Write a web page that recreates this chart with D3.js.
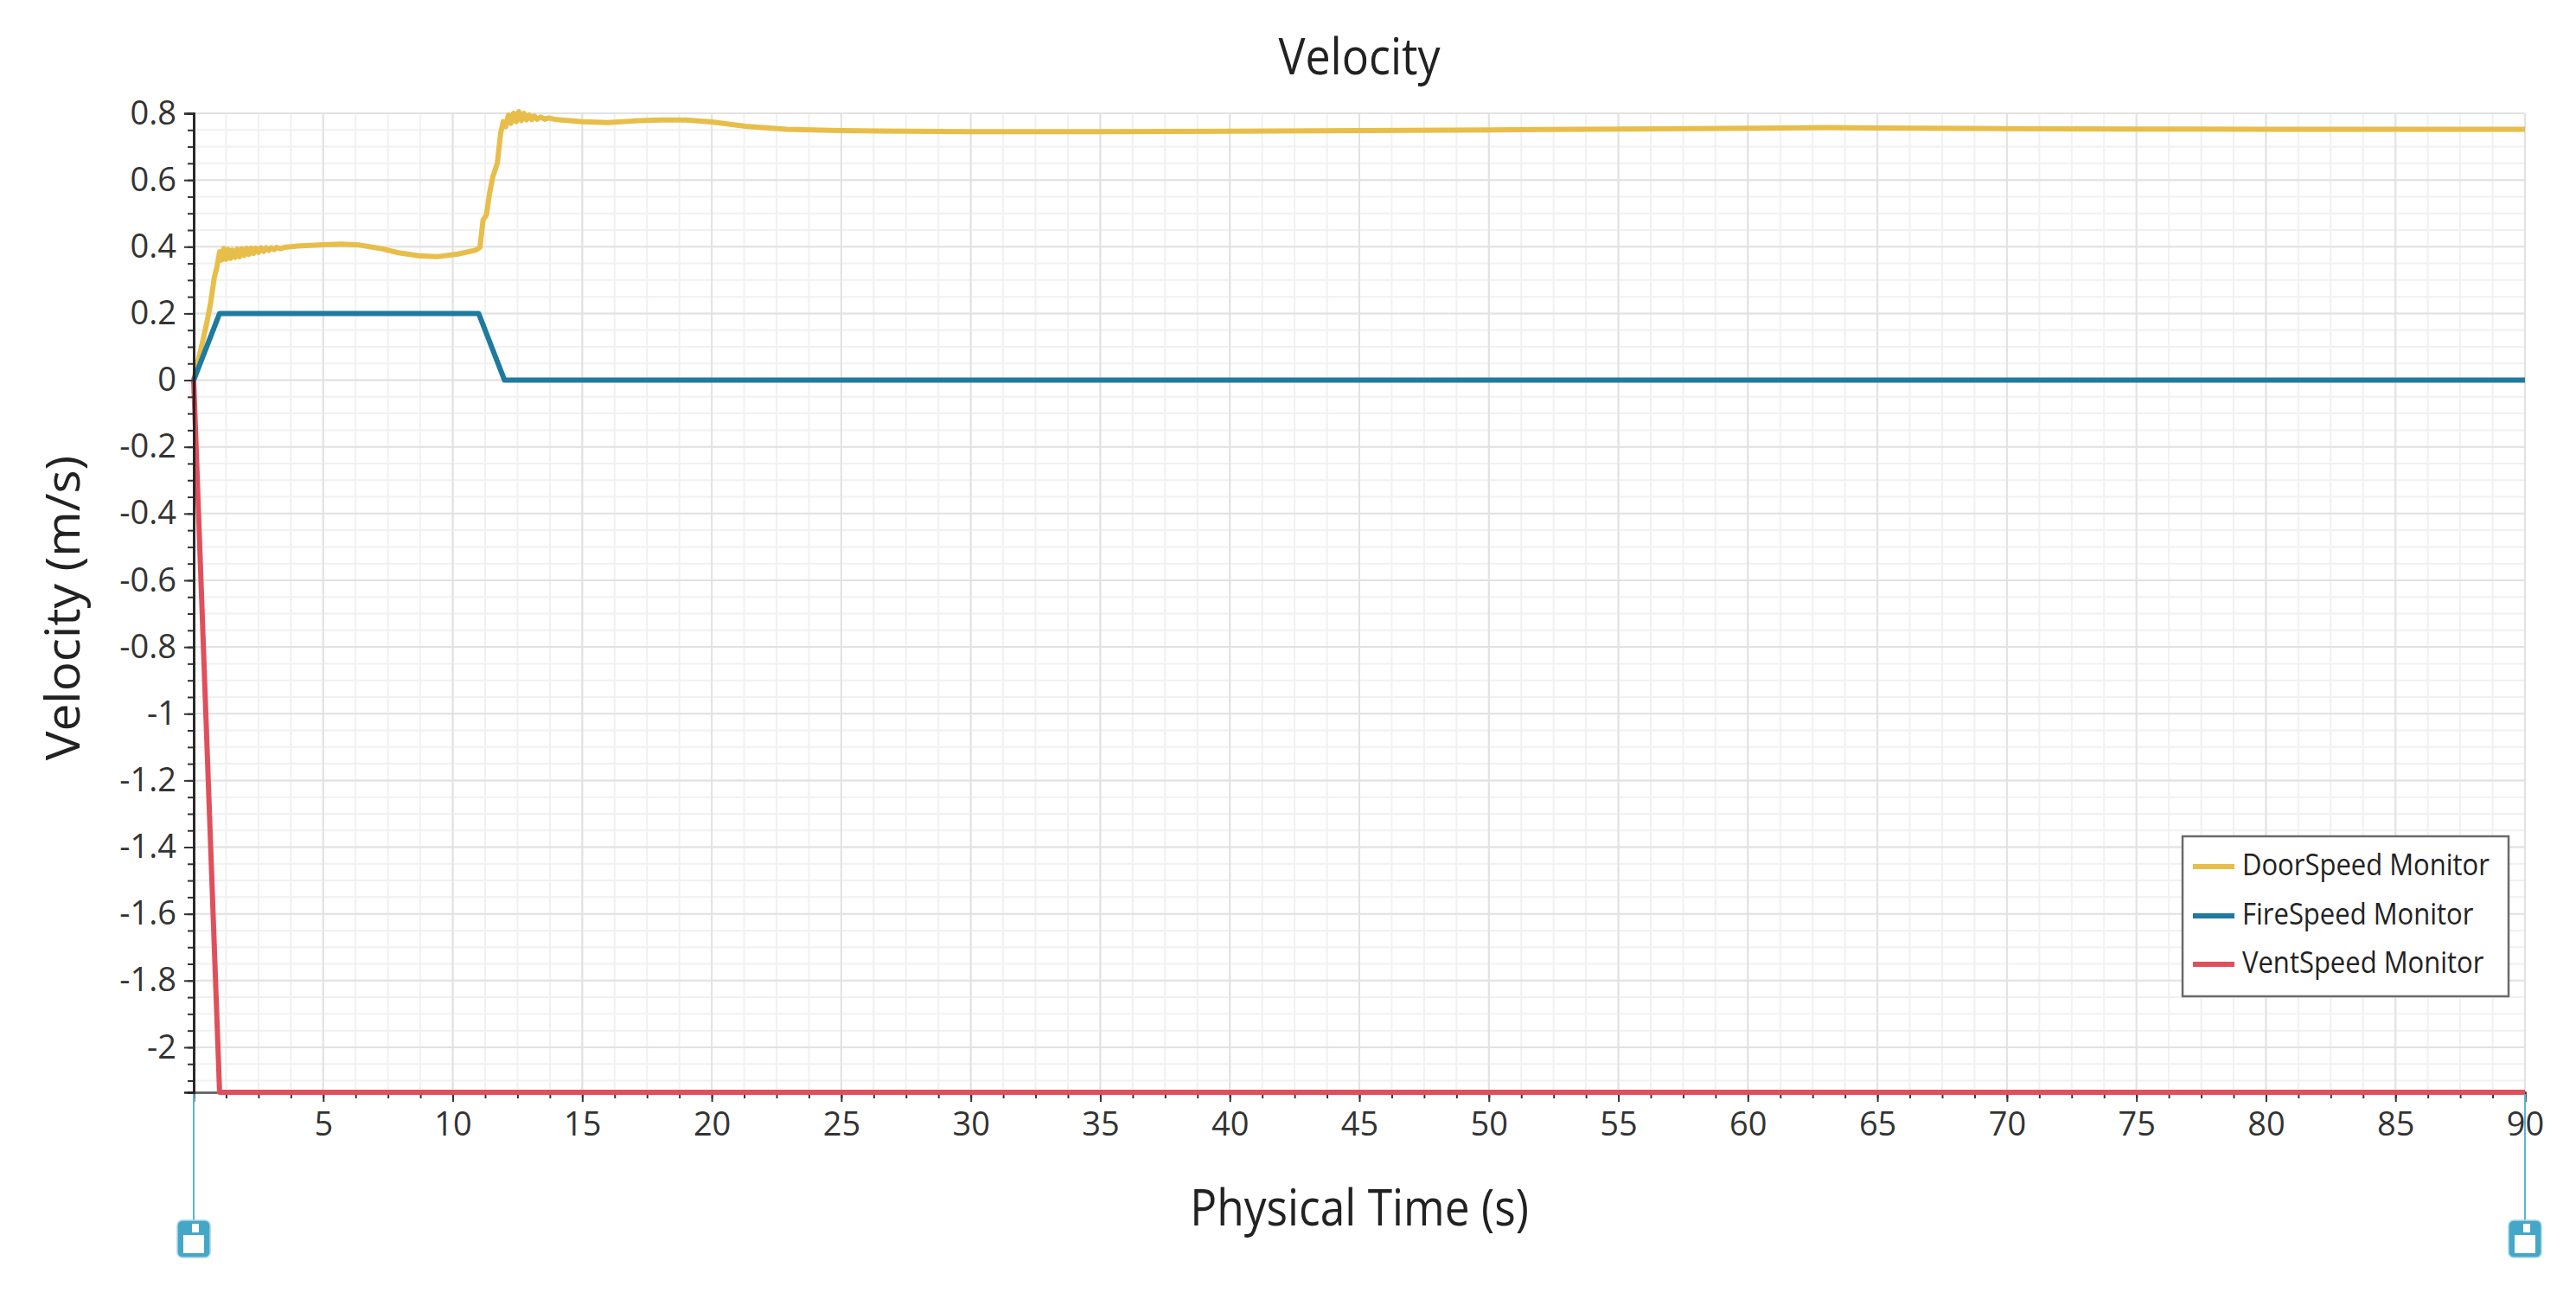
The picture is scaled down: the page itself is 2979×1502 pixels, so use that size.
<!DOCTYPE html>
<html>
<head>
<meta charset="utf-8">
<script src="https://cdn.jsdelivr.net/npm/d3@7"></script>
<style>
  html, body { margin: 0; padding: 0; background: #ffffff; }
  svg { display: block; }
  text { font-family: "Open Sans", "Noto Sans", sans-serif; }
</style>
</head>
<body>
<svg id="chart" width="2979" height="1502"></svg>
<script>
// ---------------- data ----------------
const chartTitle = "Velocity";
const xTitle = "Physical Time (s)";
const yTitle = "Velocity (m/s)";
const seriesNames = ["DoorSpeed Monitor", "FireSpeed Monitor", "VentSpeed Monitor"];
const seriesColors = ["#E8BE4A", "#1E7A9E", "#E0505C"];

const doorT = [0, 0.15, 0.3, 0.5, 0.65, 0.8, 0.9, 1.0, 1.08, 1.16, 1.25, 1.33, 1.42, 1.5, 1.6, 1.68, 1.77, 1.86, 1.95, 2.04, 2.13, 2.22, 2.31, 2.4, 2.5, 2.6, 2.7, 2.8, 2.9, 3.0, 3.1, 3.2, 3.35, 3.5, 4.0, 5.0, 5.7, 6.4, 7.2, 7.9, 8.7, 9.4, 10.2, 10.9, 11.05, 11.17, 11.3, 11.42, 11.55, 11.72, 11.85, 11.95, 12.05, 12.15, 12.25, 12.35, 12.45, 12.55, 12.65, 12.75, 12.85, 12.95, 13.05, 13.15, 13.25, 13.4, 13.55, 13.7, 14.0, 15.0, 16.0, 17.0, 18.0, 19.0, 20.0, 21.3, 22.9, 25, 30, 35, 40, 45, 50, 55, 60, 63, 65, 70, 75, 80, 85, 90];
const doorV = [0, 0.05, 0.10, 0.17, 0.23, 0.31, 0.34, 0.385, 0.36, 0.395, 0.362, 0.392, 0.365, 0.39, 0.368, 0.393, 0.37, 0.394, 0.374, 0.395, 0.377, 0.396, 0.38, 0.396, 0.383, 0.397, 0.386, 0.397, 0.389, 0.397, 0.391, 0.398, 0.394, 0.398, 0.402, 0.406, 0.408, 0.405, 0.395, 0.382, 0.373, 0.370, 0.378, 0.390, 0.398, 0.48, 0.495, 0.56, 0.61, 0.65, 0.74, 0.775, 0.76, 0.795, 0.77, 0.80, 0.775, 0.805, 0.778, 0.80, 0.78, 0.795, 0.781, 0.792, 0.782, 0.789, 0.782, 0.786, 0.781, 0.775, 0.772, 0.777, 0.780, 0.780, 0.774, 0.761, 0.752, 0.748, 0.745, 0.745, 0.746, 0.748, 0.750, 0.753, 0.755, 0.757, 0.756, 0.754, 0.753, 0.752, 0.752, 0.752];

const fireT = [0, 1, 11, 12, 90];
const fireV = [0, 0.2, 0.2, 0, 0];

const ventT = [0, 1, 90];
const ventV = [0, -2.135, -2.135];

const xMajorTicks = [5, 10, 15, 20, 25, 30, 35, 40, 45, 50, 55, 60, 65, 70, 75, 80, 85, 90];
const yMajorTicks = [0.8, 0.6, 0.4, 0.2, 0, -0.2, -0.4, -0.6, -0.8, -1, -1.2, -1.4, -1.6, -1.8, -2];
const xMinorStep = 1.25;
const yMinorStep = 0.05;
const xDomain = [0, 90];
const yDomain = [-2.135, 0.8];

// ---------------- layout ----------------
const svg = d3.select("#chart");
const L = 224, R = 2920, T = 131, B = 1263;

const x = d3.scaleLinear().domain(xDomain).range([L, R]);
const y = d3.scaleLinear().domain(yDomain).range([B, T]);

const xMinor = d3.range(0, 90 + 1e-9, xMinorStep);
const yMinor = d3.range(0.8, -2.135 - 1e-9, -yMinorStep).map(v => +v.toFixed(3));
const yMajorGrid = yMajorTicks;
const xMajorGrid = [0].concat(xMajorTicks);

// grid
const grid = svg.append("g");
grid.selectAll(".vminor").data(xMinor).join("line")
  .attr("x1", d => x(d)).attr("x2", d => x(d)).attr("y1", T).attr("y2", B)
  .attr("stroke", "#f1f1f1").attr("stroke-width", 2);
grid.selectAll(".hminor").data(yMinor).join("line")
  .attr("x1", L).attr("x2", R).attr("y1", d => y(d)).attr("y2", d => y(d))
  .attr("stroke", "#f1f1f1").attr("stroke-width", 2);
grid.selectAll(".vmajor").data(xMajorGrid).join("line")
  .attr("x1", d => x(d)).attr("x2", d => x(d)).attr("y1", T).attr("y2", B)
  .attr("stroke", "#e2e2e2").attr("stroke-width", 2);
grid.selectAll(".hmajor").data(yMajorGrid).join("line")
  .attr("x1", L).attr("x2", R).attr("y1", d => y(d)).attr("y2", d => y(d))
  .attr("stroke", "#e2e2e2").attr("stroke-width", 2);

// axes
const fmt = d => String(+(+d).toFixed(2));
const yAxisMinor = d3.axisLeft(y).tickValues(yMinor).tickSize(7).tickFormat("");
const yAxisMajor = d3.axisLeft(y).tickValues(yMajorTicks).tickSize(11).tickPadding(9).tickFormat(fmt);
const xAxisMinor = d3.axisBottom(x).tickValues(xMinor).tickSize(7).tickFormat("");
const xAxisMajor = d3.axisBottom(x).tickValues(xMajorTicks).tickSize(11).tickPadding(12).tickFormat(fmt);

function styleAxis(g, color) {
  g.select(".domain").attr("stroke", color).attr("stroke-width", 2.5);
  g.selectAll(".tick line").attr("stroke", "#333").attr("stroke-width", 2);
  g.selectAll(".tick text").attr("fill", "#333").attr("font-size", 38)
    .attr("font-family", '"Open Sans", sans-serif');
}

// series lines
const line = d3.line().x(d => x(d[0])).y(d => y(d[1]));
const series = [
  d3.zip(doorT, doorV),
  d3.zip(fireT, fireV),
  d3.zip(ventT, ventV)
];

const xgMin = svg.append("g").attr("transform", `translate(0,${B})`).call(xAxisMinor);
const xgMaj = svg.append("g").attr("transform", `translate(0,${B})`).call(xAxisMajor);
styleAxis(xgMin, "#666"); styleAxis(xgMaj, "#666");
xgMaj.selectAll(".tick text").attr("dy", "0.71em");

svg.append("g").selectAll("path").data(series).join("path")
  .attr("d", line)
  .attr("fill", "none")
  .attr("stroke", (d, i) => seriesColors[i])
  .attr("stroke-width", 6)
  .attr("stroke-linejoin", "round");

const ygMin = svg.append("g").attr("transform", `translate(${L},0)`).call(yAxisMinor);
const ygMaj = svg.append("g").attr("transform", `translate(${L},0)`).call(yAxisMajor);
styleAxis(ygMin, "#222"); styleAxis(ygMaj, "#222");

// titles
svg.append("text").text(chartTitle)
  .attr("transform", `translate(${(L + R) / 2},86) scale(1,1.13)`)
  .attr("text-anchor", "middle").attr("font-size", 52).attr("fill", "#222");
svg.append("text").text(xTitle)
  .attr("transform", `translate(${(L + R) / 2},1417) scale(1,1.12)`)
  .attr("text-anchor", "middle").attr("font-size", 51.5).attr("fill", "#222");
svg.append("text").text(yTitle)
  .attr("transform", `translate(92,703) rotate(-90) scale(1.05,1)`)
  .attr("text-anchor", "middle").attr("font-size", 54).attr("fill", "#222");

// legend
const lg = svg.append("g");
lg.append("rect").attr("x", 2524).attr("y", 967).attr("width", 377).attr("height", 185)
  .attr("fill", "#ffffff").attr("stroke", "#6a6a6a").attr("stroke-width", 2.5);
const rowY = [1002, 1059, 1115];
seriesNames.forEach((name, i) => {
  lg.append("line").attr("x1", 2536).attr("x2", 2584).attr("y1", rowY[i]).attr("y2", rowY[i])
    .attr("stroke", seriesColors[i]).attr("stroke-width", 6);
  lg.append("text").text(name)
    .attr("transform", `translate(2593,${rowY[i] + 10}) scale(1,1.13)`)
    .attr("font-size", 31).attr("fill", "#222");
});

// cursors
[0, 90].forEach(v => {
  const cx = x(v);
  const g = svg.append("g");
  g.append("line").attr("x1", cx).attr("x2", cx).attr("y1", B + 2).attr("y2", 1412)
    .attr("stroke", "#5db3cf").attr("stroke-width", 2);
  g.append("rect").attr("x", cx - 19).attr("y", 1411).attr("width", 38).attr("height", 43)
    .attr("rx", 6).attr("fill", "#45a7c8").attr("stroke", "#a9d8e8").attr("stroke-width", 1.5);
  g.append("rect").attr("x", cx - 12).attr("y", 1428).attr("width", 24).attr("height", 21)
    .attr("fill", "#ffffff");
  g.append("rect").attr("x", cx - 2).attr("y", 1415).attr("width", 8).attr("height", 10)
    .attr("fill", "#ffffff");
});
</script>
</body>
</html>
